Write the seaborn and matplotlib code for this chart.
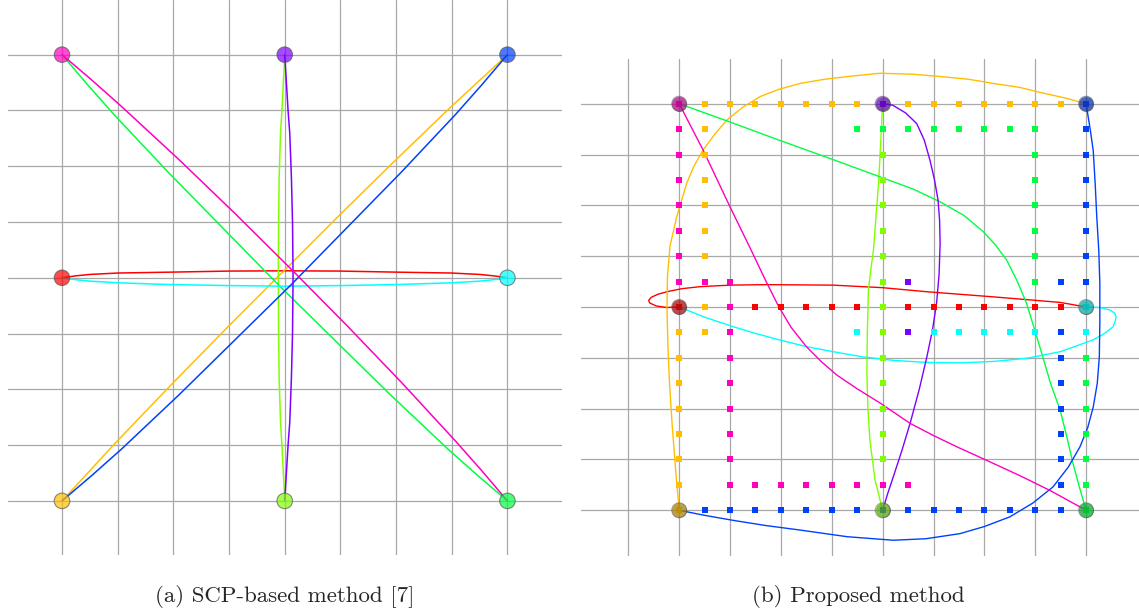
import matplotlib
matplotlib.use("Agg")
import matplotlib.pyplot as plt
import seaborn as sns

sns.set_style("white")
plt.rcParams['font.family'] = ['cmr10', 'DejaVu Serif']

# 8 agents, hue order red -> magenta
agents = ['red', 'orange', 'lime', 'green', 'cyan', 'blue', 'purple', 'magenta']
start_x = [0, 0, 4, 8, 8, 8, 4, 0]
start_y = [4, 0, 0, 0, 4, 8, 8, 8]
colors = dict(zip(agents, sns.hls_palette(8, h=0, l=0.5, s=1)))

captions = ['(a) SCP-based method [7]', '(b) Proposed method']

# (a) SCP trajectories
scp_x = {
    'red':     [0, 0.25, 0.5, 1.0, 1.88, 3, 4, 5, 6.07, 7, 7.5, 7.75, 8],
    'cyan':    [0, 0.25, 0.5, 1.0, 1.88, 3, 4, 5, 6.07, 7, 7.5, 7.75, 8],
    'purple':  [4, 4.015, 4.03, 4.06, 4.09, 4.12, 4.14, 4.15, 4.14, 4.12, 4.09, 4.06, 4.03, 4.015, 4],
    'lime':    [4, 3.99, 3.975, 3.95, 3.925, 3.90, 3.89, 3.885, 3.89, 3.90, 3.925, 3.95, 3.975, 3.99, 4],
    'magenta': [0, 0.54, 1.07, 2.11, 3.13, 4.135, 5.13, 6.11, 7.07, 7.54, 8],
    'green':   [0, 0.46, 0.93, 1.9, 2.89, 3.88, 4.89, 5.9, 6.93, 7.46, 8],
    'orange':  [0, 0.48, 0.96, 1.94, 2.93, 3.93, 4.93, 5.94, 6.96, 7.48, 8],
    'blue':    [0, 0.54, 1.07, 2.1, 3.11, 4.12, 5.11, 6.1, 7.07, 7.54, 8],
}
scp_y = {
    'red':     [4, 4.035, 4.06, 4.085, 4.10, 4.12, 4.125, 4.12, 4.10, 4.085, 4.06, 4.035, 4],
    'cyan':    [4, 3.965, 3.94, 3.91, 3.88, 3.86, 3.85, 3.86, 3.88, 3.91, 3.94, 3.965, 4],
    'purple':  [8, 7.75, 7.5, 7.0, 6.6, 5.8, 5, 4, 3, 2.2, 1.4, 1.0, 0.5, 0.25, 0],
    'lime':    [8, 7.75, 7.5, 7.0, 6.6, 5.8, 5, 4, 3, 2.2, 1.4, 1.0, 0.5, 0.25, 0],
    'magenta': [8, 7.54, 7.07, 6.11, 5.13, 4.135, 3.13, 2.11, 1.07, 0.54, 0],
    'green':   [8, 7.46, 6.93, 5.9, 4.89, 3.88, 2.89, 1.9, 0.93, 0.46, 0],
    'orange':  [0, 0.52, 1.04, 2.06, 3.07, 4.07, 5.07, 6.06, 7.04, 7.52, 8],
    'blue':    [0, 0.46, 0.93, 1.9, 2.89, 3.88, 4.89, 5.9, 6.93, 7.46, 8],
}

# (b) proposed: continuous trajectories
prop_x = {
    'orange':  [0, -0.07, -0.14, -0.19, -0.22, -0.24, -0.23, -0.18, -0.05, 0.15, 0.28, 0.47, 0.7,
                0.94, 1.25, 1.59, 1.95, 2.38, 2.85, 3.36, 3.95, 4.6, 5.19, 5.7, 6.17, 6.7, 7.15,
                7.6, 8],
    'magenta': [0, 0.47, 1.0, 1.4, 1.7, 1.95, 2.2, 2.5, 2.8, 3.1, 3.5, 3.95, 4.54, 5.0,
                5.5, 6.05, 6.7, 7.29, 8],
    'green':   [0, 1.0, 2.0, 3.0, 3.95, 4.6, 5.13, 5.6, 5.98, 6.22, 6.44, 6.65, 6.83, 6.98,
                7.13, 7.3, 7.49, 7.62, 7.74, 7.87, 8],
    'purple':  [4, 4.2, 4.45, 4.67, 4.82, 4.93, 5.02, 5.09, 5.12, 5.13, 5.11, 5.06, 4.98,
                4.87, 4.72, 4.54, 4.38, 4.21, 4.1, 4],
    'lime':    [4, 3.85, 3.75, 3.71, 3.69, 3.7, 3.72, 3.77, 3.82, 3.87, 3.92, 3.96, 4],
    'red':     [0, -0.24, -0.45, -0.58, -0.6, -0.55, -0.42, -0.24, 0.05, 0.41, 1.0, 1.72,
                3.03, 4.0, 4.87, 6.17, 7.49, 8],
    'cyan':    [8, 8.27, 8.47, 8.56, 8.59, 8.57, 8.53, 8.35, 8.13, 7.8, 7.49, 6.83, 6.2,
                5.52, 4.85, 4.21, 3.6, 3.03, 2.5, 1.98, 1.5, 1.07, 0.5, 0],
    'blue':    [8, 8.08, 8.14, 8.18, 8.21, 8.25, 8.27, 8.27, 8.26, 8.22, 8.14, 8.03, 7.88,
                7.65, 7.35, 6.95, 6.5, 6.0, 5.52, 4.85, 4.21, 3.3, 2.38, 1.7, 1.07, 0.5, 0],
}
prop_y = {
    'orange':  [0, 0.8, 1.71, 2.5, 3.2, 4.0, 4.6, 5.2, 5.77, 6.44, 6.75, 7.09, 7.4,
                7.68, 7.93, 8.14, 8.28, 8.40, 8.48, 8.54, 8.60, 8.58, 8.53, 8.48, 8.40, 8.32, 8.21,
                8.11, 8],
    'magenta': [8, 7.09, 5.97, 5.15, 4.52, 4.02, 3.6, 3.22, 2.92, 2.66, 2.39, 2.11,
                1.71, 1.47, 1.23, 0.98, 0.68, 0.39, 0],
    'green':   [8, 7.64, 7.27, 6.91, 6.56, 6.32, 6.07, 5.8, 5.48, 5.22, 4.92, 4.5, 4.07, 3.58,
                3.08, 2.5, 1.97, 1.45, 0.93, 0.45, 0],
    'purple':  [8, 7.97, 7.82, 7.61, 7.28, 6.89, 6.5, 6.10, 5.7, 5.25, 4.65, 4.07, 3.55,
                3.02, 2.38, 1.71, 1.18, 0.66, 0.33, 0],
    'lime':    [0, 0.6, 1.38, 2.0, 2.69, 3.5, 4.33, 4.75, 5.12, 5.8, 6.43, 7.2, 8],
    'red':     [4, 3.99, 4.02, 4.08, 4.13, 4.19, 4.25, 4.30, 4.36, 4.40, 4.43, 4.44,
                4.43, 4.38, 4.30, 4.20, 4.09, 4],
    'cyan':    [4, 3.99, 3.94, 3.88, 3.81, 3.71, 3.61, 3.47, 3.35, 3.23, 3.12, 2.99, 2.93,
                2.90, 2.91, 2.95, 3.02, 3.12, 3.22, 3.35, 3.48, 3.61, 3.8, 4],
    'blue':    [8, 7.5, 7.08, 6.4, 5.77, 5.1, 4.46, 3.7, 3.02, 2.5, 2.03, 1.62, 1.25,
                0.85, 0.46, 0.14, -0.13, -0.32, -0.46, -0.56, -0.59, -0.52, -0.39, -0.3, -0.20,
                -0.1, 0],
}

# (b) proposed: discrete waypoints (drawing order matters)
sq_x = {
    'magenta': [0, 0, 0, 0, 0, 0, 0, 0, 0.5, 1, 1, 1, 1, 1, 1, 1, 1, 1,
                1.5, 2, 2.5, 3, 3.5, 4, 4.5],
    'green':   [8, 8, 8, 8, 8, 8, 8, 7, 7, 7, 7, 7, 7, 7, 6.5, 6, 5.5, 5, 4.5, 4, 3.5],
    'cyan':    [8, 8, 7, 6.5, 6, 5.5, 5, 3.5],
    'purple':  [4, 4.5, 4.5],
    'red':     [0, 0.5, 1, 1.5, 2, 2.5, 3, 3.5, 4, 4.5, 5, 5.5, 6, 6.5, 7, 7.5],
    'orange':  [0, 0, 0, 0, 0, 0, 0, 0, 0.5, 0.5, 0.5, 0.5, 0.5, 0.5, 0.5, 0.5, 0.5, 0.5,
                1, 1.5, 2, 2.5, 3, 3.5, 4, 4.5, 5, 5.5, 6, 6.5, 7, 7.5],
    'lime':    [4, 4, 4, 4, 4, 4, 4, 4, 4, 4, 4, 4, 4, 4, 4, 4],
    'blue':    [8, 8, 8, 8, 8, 8, 8, 8, 7.5, 7.5, 7.5, 7.5, 7.5, 7.5, 7.5, 7.5,
                7.5, 7, 6.5, 6, 5.5, 5, 4.5, 4, 3.5, 3, 2.5, 2, 1.5, 1, 0.5],
}
sq_y = {
    'magenta': [8, 7.5, 7, 6.5, 6, 5.5, 5, 4.5, 4.5, 4.5, 4, 3.5, 3, 2.5, 2, 1.5, 1, 0.5,
                0.5, 0.5, 0.5, 0.5, 0.5, 0.5, 0.5],
    'green':   [0, 0.5, 1, 1.5, 2, 2.5, 3, 4.5, 5, 5.5, 6, 6.5, 7, 7.5,
                7.5, 7.5, 7.5, 7.5, 7.5, 7.5, 7.5],
    'cyan':    [4, 3.5, 3.5, 3.5, 3.5, 3.5, 3.5, 3.5],
    'purple':  [8, 4.5, 3.5],
    'red':     [4, 4, 4, 4, 4, 4, 4, 4, 4, 4, 4, 4, 4, 4, 4, 4],
    'orange':  [0, 0.5, 1, 1.5, 2, 2.5, 3, 3.5, 3.5, 4, 4.5, 5, 5.5, 6, 6.5, 7, 7.5, 8,
                8, 8, 8, 8, 8, 8, 8, 8, 8, 8, 8, 8, 8, 8],
    'lime':    [0, 0.5, 1, 1.5, 2, 2.5, 3, 3.5, 4, 4.5, 5, 5.5, 6, 6.5, 7, 7.5],
    'blue':    [8, 7.5, 7, 6.5, 6, 5.5, 5, 4.5, 4.5, 3.5, 3, 2.5, 2, 1.5, 1, 0.5,
                0, 0, 0, 0, 0, 0, 0, 0, 0, 0, 0, 0, 0, 0, 0],
}

fig = plt.figure(figsize=(11.39, 6.14), dpi=100)
ax1 = fig.add_axes([8 / 1139, 59 / 614, 554 / 1139, 555 / 614])
ax2 = fig.add_axes([581 / 1139, 58 / 614, 558 / 1139, 497 / 614])


def style_grid(ax, xt, yt):
    ax.set_xticks(xt)
    ax.set_yticks(yt)
    ax.tick_params(length=0, labelbottom=False, labelleft=False)
    for s in ax.spines.values():
        s.set_visible(False)
    ax.grid(True, color='#a8a8a8', lw=0.9)
    ax.set_axisbelow(True)
    ax.set_xlabel('')
    ax.set_ylabel('')


# --- (a) ---
for a in agents:
    sns.lineplot(x=scp_x[a], y=scp_y[a], sort=False, estimator=None,
                 color=colors[a], lw=1.1, ax=ax1, zorder=2)
sns.scatterplot(x=start_x, y=start_y, hue=agents, palette=colors, s=125,
                alpha=0.7, edgecolor='0.35', linewidth=0.8, legend=False,
                ax=ax1, zorder=4)
ax1.set_xlim(-0.97, 8.98)
ax1.set_ylim(-0.97, 8.98)
style_grid(ax1, range(0, 9), range(0, 9))

# --- (b) ---
for a in agents:
    sns.scatterplot(x=sq_x[a], y=sq_y[a], color=colors[a], marker='s', s=20,
                    linewidth=0, ax=ax2, zorder=3)
for a in agents:
    sns.lineplot(x=prop_x[a], y=prop_y[a], sort=False, estimator=None,
                 color=colors[a], lw=1.0, ax=ax2, zorder=2)
sns.scatterplot(x=start_x, y=start_y, color='0.15', s=115, alpha=0.55,
                linewidth=0, legend=False, ax=ax2, zorder=4)
sns.scatterplot(x=start_x, y=start_y, hue=agents, palette=colors, s=115,
                alpha=0.45, edgecolor='0.3', linewidth=0.8, legend=False,
                ax=ax2, zorder=5)
ax2.set_xlim(-1.93, 9.04)
ax2.set_ylim(-0.9, 8.88)
style_grid(ax2, range(-1, 9), range(0, 9))

fig.text(285 / 1139, 1 - 597 / 614, captions[0], ha='center', va='center', fontsize=16.5)
fig.text(858 / 1139, 1 - 597 / 614, captions[1], ha='center', va='center', fontsize=16.5)

fig.savefig('out.png', dpi=100)
